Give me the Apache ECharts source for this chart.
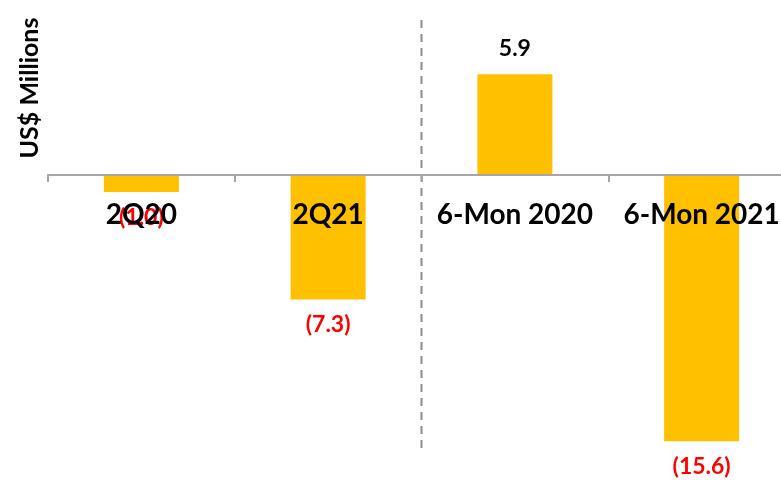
<!DOCTYPE html>
<html>
<head>
<meta charset="utf-8">
<script src="https://cdn.jsdelivr.net/npm/echarts@6/dist/echarts.min.js"></script>
<style>html,body{margin:0;padding:0;background:#fff;}#c{width:781px;height:483px;}</style>
</head>
<body>
<div id="c"></div>
<script>
const categories = ['2Q20', '2Q21', '6-Mon 2020', '6-Mon 2021'];
const values = [-1.0, -7.3, 5.9, -15.6];
const yTitle = 'US$ Millions';
const dividerPos = 2; // boundary between 2Q21 and 6-Mon 2020 (in category units)

const yMin = -16, yMax = 9.2;
const gridTop = 18, gridBottom = 35, H = 483;
const plotH = H - gridTop - gridBottom;
const zeroOffset = -plotH * (0 - yMin) / (yMax - yMin); // move the category axis up to y = 0

const chart = echarts.init(document.getElementById('c'));
const fmt = v => v < 0 ? '(' + Math.abs(v).toFixed(1) + ')' : v.toFixed(1);
chart.setOption({
  animation: false,
  grid: { left: 48, width: 747, top: gridTop, bottom: gridBottom, containLabel: false, outerBoundsMode: 'none' },
  xAxis: [{
    type: 'category',
    data: categories,
    offset: zeroOffset,
    axisLine: { onZero: false, lineStyle: { color: '#a6a6a6', width: 2 } },
    axisTick: { show: true, length: 7, lineStyle: { color: '#a6a6a6', width: 2 } },
    axisLabel: { color: '#000', fontFamily: 'Lato', fontWeight: 'bold', fontSize: 28, margin: 26, interval: 0 },
    splitLine: { show: false },
    z: 5
  }, {
    type: 'value', min: 0, max: 4, show: false
  }],
  yAxis: {
    type: 'value', min: yMin, max: yMax,
    axisLine: { show: false }, axisTick: { show: false }, axisLabel: { show: false }, splitLine: { show: false }
  },
  series: [{
    type: 'bar',
    data: values.map(v => ({
      value: v,
      label: {
        show: true,
        position: v < 0 ? 'bottom' : 'top',
        distance: 14,
        color: v < 0 ? '#ff0000' : '#000',
        fontFamily: 'Lato', fontWeight: 'bold', fontSize: 23,
        formatter: p => fmt(p.value)
      }
    })),
    barWidth: 75,
    itemStyle: { color: '#FFC000' },
    z: 2
  }, {
    type: 'line',
    xAxisIndex: 1,
    data: [[dividerPos, yMin], [dividerPos, yMax]],
    symbol: 'none',
    lineStyle: { color: '#8c8c8c', type: [8, 6], width: 2 },
    z: 1,
    silent: true
  }],
  graphic: [{
    type: 'text',
    x: 30, y: 88,
    rotation: Math.PI / 2,
    style: { text: yTitle, fontFamily: 'Lato', fontWeight: 'bold', fontSize: 25, fill: '#000', align: 'center', verticalAlign: 'middle' }
  }]
});
</script>
</body>
</html>
